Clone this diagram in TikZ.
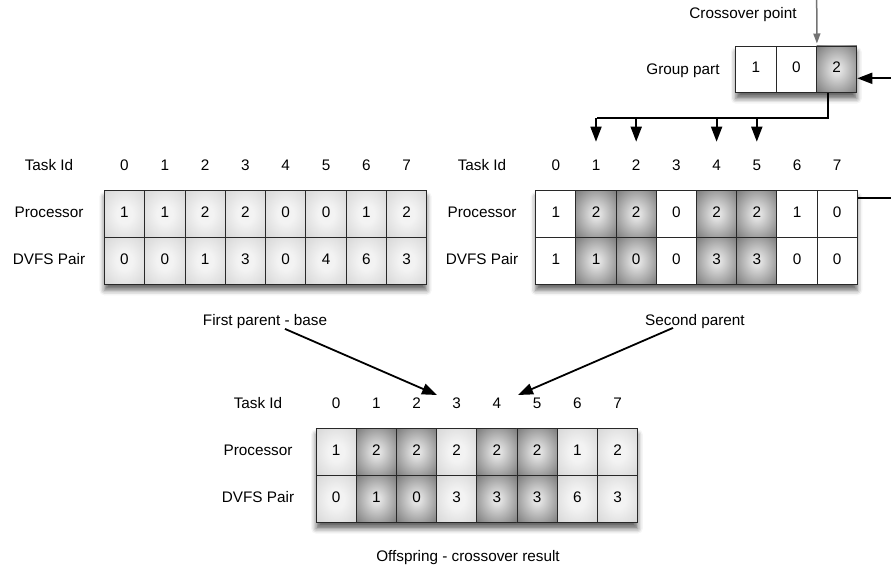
\documentclass[tikz,border=0pt]{standalone}
\usepackage{fontspec}
\setmainfont{Liberation Sans}
\usepackage{xcolor}
\usepackage{tikz}
\usetikzlibrary{positioning, calc, arrows.meta, shadows.blur}
\definecolor{xoLine}{RGB}{40, 40, 40}
\definecolor{xoGray}{RGB}{115, 115, 115}
\definecolor{xoLight}{RGB}{243, 243, 243}
\definecolor{xoMid}{RGB}{200, 200, 200}
\definecolor{xoPale}{RGB}{225, 225, 225}
\definecolor{xoDark}{RGB}{100, 100, 100}
\definecolor{xoDeep}{RGB}{80, 80, 80}
\pgfdeclareradialshading{lightglow}{\pgfpoint{0bp}{0bp}}{%
  color(0bp)=(xoLight); color(10bp)=(xoLight); color(48bp)=(xoMid); color(70bp)=(xoMid)}
\pgfdeclareradialshading{darkglow}{\pgfpoint{0bp}{0bp}}{%
  color(0bp)=(xoPale); color(5bp)=(xoPale); color(42bp)=(xoDark); color(70bp)=(xoDeep)}
\tikzset{
    base/.style={
        font=\fontsize{15.3}{18}\selectfont,
        align=center,
        text=black,
        text height=1.4ex,
        text depth=0pt
    },
    cell/.style={
        base,
        rectangle,
        draw=xoLine,
        line width=0.9pt,
        minimum width=40.3pt,
        minimum height=47pt,
        inner sep=0pt
    },
    plaincell/.style={
        cell,
        fill=white
    },
    lightcell/.style={
        cell,
        shade,
        shading=lightglow
    },
    darkcell/.style={
        cell,
        shade,
        shading=darkglow
    },
    table/.style={
        rectangle,
        fill=white,
        inner sep=0pt,
        blur shadow={shadow xshift=0pt, shadow yshift=-6pt, shadow blur radius=5pt, shadow opacity=60}
    },
    note/.style={
        base,
        inner sep=1pt
    },
    flow/.style={
        -{Triangle[length=15pt, width=11pt]},
        line width=1.8pt,
        color=black
    },
    link/.style={
        line width=1.8pt,
        color=black
    },
    pointer/.style={
        -{Triangle[length=10pt, width=7pt]},
        line width=1.5pt,
        color=xoGray
    }
}

\begin{document}
\begin{tikzpicture}[x=1pt, y=-1pt]
  \useasboundingbox (0,0) rectangle (891,581);

  % First parent
  \node[table, minimum width=322.4pt, minimum height=93.6pt] (fp) at (265.5,237.5) {};
  \node[note] (fp-task) at (49,167) {Task Id};
  \node[note] (fp-proc) at (49,214) {Processor};
  \node[note] (fp-dvfs) at (49,261) {DVFS Pair};
  \foreach \i in {0,...,7}
    \node[note] (fp-t\i) at ({124.5+40.3*\i},167) {\i};
  \foreach \v [count=\i from 0] in {1,1,2,2,0,0,1,2}
    \node[lightcell] (fp-p\i) at ({124.5+40.3*\i},214) {\v};
  \foreach \v [count=\i from 0] in {0,0,1,3,0,4,6,3}
    \node[lightcell] (fp-d\i) at ({124.5+40.3*\i},260.8) {\v};
  \node[note] (fp-name) at (265,322) {First parent - base};

  % Second parent
  \node[table, minimum width=321.6pt, minimum height=93.6pt] (sp) at (696.5,237.5) {};
  \node[note] (sp-task) at (482,167) {Task Id};
  \node[note] (sp-proc) at (482,214) {Processor};
  \node[note] (sp-dvfs) at (482,261) {DVFS Pair};
  \foreach \i in {0,...,7}
    \node[note] (sp-t\i) at ({555.8+40.2*\i},167) {\i};
  \foreach \v/\s [count=\i from 0] in {1/plaincell,2/darkcell,2/darkcell,0/plaincell,2/darkcell,2/darkcell,1/plaincell,0/plaincell}
    \node[\s] (sp-p\i) at ({555.8+40.2*\i},214) {\v};
  \foreach \v/\s [count=\i from 0] in {1/plaincell,1/darkcell,0/darkcell,0/plaincell,3/darkcell,3/darkcell,0/plaincell,0/plaincell}
    \node[\s] (sp-d\i) at ({555.8+40.2*\i},260.8) {\v};
  \node[note] (sp-name) at (695,322) {Second parent};

  % Group part
  \node[table, minimum width=121pt, minimum height=46.7pt] (gp) at (796.3,69.3) {};
  \node[plaincell, minimum height=46.7pt] (gp0) at (755.9,69.3) {1};
  \node[plaincell, minimum height=46.7pt] (gp1) at (796.3,69.3) {0};
  \node[darkcell, minimum height=46.7pt] (gp2) at (836.7,69.3) {2};
  \node[note] (gp-name) at (683,71) {Group part};
  \node[note] (xo-name) at (743,15) {Crossover point};

  % Offspring
  \node[table, minimum width=321.7pt, minimum height=94.4pt] (off) at (476.9,475.5) {};
  \node[note] (off-task) at (258,404.3) {Task Id};
  \node[note] (off-proc) at (258,452) {Processor};
  \node[note] (off-dvfs) at (258,499) {DVFS Pair};
  \foreach \i in {0,...,7}
    \node[note] (off-t\i) at ({336.1+40.2*\i},404.3) {\i};
  \foreach \v/\s [count=\i from 0] in {1/lightcell,2/darkcell,2/darkcell,2/lightcell,2/darkcell,2/darkcell,1/lightcell,2/lightcell}
    \node[\s] (off-p\i) at ({336.1+40.2*\i},452) {\v};
  \foreach \v/\s [count=\i from 0] in {0/lightcell,1/darkcell,0/darkcell,3/lightcell,3/darkcell,3/darkcell,6/lightcell,3/lightcell}
    \node[\s] (off-d\i) at ({336.1+40.2*\i},499.2) {\v};
  \node[note] (off-name) at (468,558) {Offspring - crossover result};

  % Crossover point
  \coordinate (xo-top) at (816.7,0);
  \draw[pointer] (xo-top) -- ($(gp1.north east)+(0,-2)$);

  % Group part spread over the second parent
  \coordinate (split) at (596.7,118.3);
  \draw[link] ($(gp2.south)+(-9,0)$) |- (split);
  \foreach \k in {1,2,4,5}
    \draw[flow] (sp-t\k |- split) -- ++(0,23.4);

  % Processor row back to the group part
  \coordinate (edge-top) at (897,78.3);
  \draw[flow] ($(sp-p7.north east)+(0,8.3)$) -| (edge-top) -- (gp2.east |- edge-top);

  % Parents to offspring
  \coordinate (fp-tip) at (437,395);
  \coordinate (sp-tip) at (518,395);
  \draw[flow] ($(fp-name.south)+(20,2)$) -- (fp-tip);
  \draw[flow] ($(sp-name.south)+(-22,1)$) -- (sp-tip);
\end{tikzpicture}
\end{document}
